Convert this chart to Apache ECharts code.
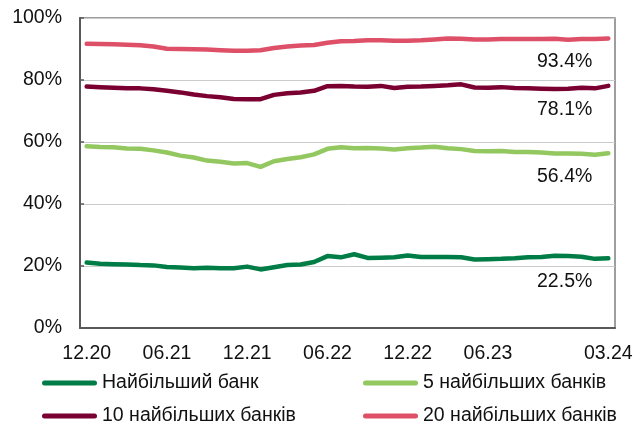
<!DOCTYPE html>
<html>
<head>
<meta charset="utf-8">
<script src="https://cdn.jsdelivr.net/npm/echarts@6/dist/echarts.min.js"></script>
<style>
  html, body { margin: 0; padding: 0; background: #fff; }
  #chart { width: 636px; height: 421px; }
</style>
</head>
<body>
<div id="chart"></div>
<script>
// місяці: 12.20 ... 03.24
const months = [
  '12.20', '01.21', '02.21', '03.21', '04.21', '05.21', '06.21', '07.21', '08.21', '09.21',
  '10.21', '11.21', '12.21', '01.22', '02.22', '03.22', '04.22', '05.22', '06.22', '07.22',
  '08.22', '09.22', '10.22', '11.22', '12.22', '01.23', '02.23', '03.23', '04.23', '05.23',
  '06.23', '07.23', '08.23', '09.23', '10.23', '11.23', '12.23', '01.24', '02.24', '03.24'
]

const top1 = [
  21.1, 20.7, 20.6, 20.5, 20.3, 20.2, 19.7, 19.5, 19.3, 19.4,
  19.3, 19.3, 19.8, 18.9, 19.6, 20.3, 20.5, 21.3, 23.2, 22.8,
  23.8, 22.6, 22.7, 22.8, 23.4, 22.9, 22.9, 22.9, 22.8, 22.1,
  22.2, 22.3, 22.5, 22.8, 22.9, 23.3, 23.2, 23.0, 22.3, 22.5
]
const top5 = [
  58.6, 58.4, 58.3, 57.9, 57.8, 57.3, 56.6, 55.6, 55.0, 54.0,
  53.6, 53.1, 53.2, 52.0, 53.8, 54.5, 55.1, 56.0, 57.8, 58.3,
  58.0, 58.1, 57.9, 57.6, 58.0, 58.2, 58.5, 58.0, 57.7, 57.1,
  57.0, 57.1, 56.8, 56.8, 56.6, 56.3, 56.3, 56.2, 55.9, 56.4
]
const top10 = [
  77.9, 77.7, 77.5, 77.3, 77.3, 77.0, 76.5, 76.0, 75.3, 74.8,
  74.4, 73.9, 73.8, 73.8, 75.2, 75.7, 76.0, 76.5, 78.0, 78.1,
  77.9, 77.8, 78.1, 77.4, 77.8, 77.9, 78.1, 78.3, 78.6, 77.6,
  77.5, 77.7, 77.4, 77.3, 77.2, 77.1, 77.2, 77.5, 77.3, 78.1
]
const top20 = [
  91.7, 91.6, 91.5, 91.4, 91.2, 90.8, 90.1, 90.0, 89.9, 89.8,
  89.6, 89.4, 89.4, 89.6, 90.3, 90.8, 91.1, 91.3, 92.0, 92.5,
  92.6, 92.8, 92.8, 92.7, 92.7, 92.8, 93.1, 93.4, 93.3, 93.1,
  93.1, 93.2, 93.2, 93.2, 93.2, 93.3, 93.0, 93.2, 93.2, 93.4
]

const names = ['Найбільший банк', '5 найбільших банків', '10 найбільших банків', '20 найбільших банків']
const colors = ['#007d46', '#92c85f', '#7b0032', '#de5068']
const values = [top1, top5, top10, top20]

const font = 'Arial, "Liberation Sans", sans-serif'
const capsule = 'path://M2.5,0H52.5A2.5,2.5,0,0,1,52.5,5H2.5A2.5,2.5,0,0,1,2.5,0Z'

function makeSeries (i) {
  const data = values[i]
  const last = data.length - 1
  return {
    name: names[i],
    type: 'line',
    data: data,
    showSymbol: false,
    symbol: 'none',
    silent: true,
    color: colors[i],
    lineStyle: { width: 4.5, color: colors[i], cap: 'round', join: 'round' },
    z: 3 + i,
    markPoint: {
      symbol: 'circle',
      symbolSize: 1,
      itemStyle: { color: 'transparent' },
      label: {
        show: true,
        position: 'bottom',
        distance: 0,
        align: 'right',
        offset: [-16, 13],
        color: '#111',
        fontSize: 19.5,
        fontFamily: font,
        formatter: p => p.value.toFixed(1) + '%'
      },
      data: [{ coord: [last, data[last]], value: data[last] }]
    }
  }
}

// одна легенда на кожну серію, 2 x 2
function makeLegend (i, left, top) {
  return {
    left: left,
    top: top,
    data: [names[i]],
    itemWidth: 55,
    itemHeight: 5,
    icon: capsule,
    selectedMode: false,
    textStyle: { fontSize: 19.5, color: '#111', fontFamily: font }
  }
}

const chart = echarts.init(document.getElementById('chart'))
chart.setOption({
  animation: false,
  backgroundColor: '#fff',
  textStyle: { fontFamily: font },
  grid: {
    left: 80, right: 21, top: 18, bottom: 93,
    show: true,
    borderColor: '#7f7f7f',
    borderWidth: 1.5
  },
  legend: [
    makeLegend(0, 37, 368),
    makeLegend(1, 358, 368),
    makeLegend(2, 37, 401),
    makeLegend(3, 358, 401)
  ],
  xAxis: {
    type: 'category',
    data: months,
    boundaryGap: true,
    axisLine: { lineStyle: { color: '#595959', width: 2 } },
    axisTick: {
      inside: true,
      length: 5,
      interval: i => i % 6 === 0,
      lineStyle: { color: '#595959', width: 1.5 }
    },
    axisLabel: {
      interval: i => (i % 6 === 0 && i !== 36) || i === months.length - 1,
      margin: 16,
      fontSize: 19.5,
      color: '#111',
      fontFamily: font
    },
    splitLine: { show: false }
  },
  yAxis: {
    type: 'value',
    min: 0,
    max: 100,
    interval: 20,
    axisLine: { show: true, lineStyle: { color: '#595959', width: 2 } },
    axisTick: { show: true, inside: true, length: 4, lineStyle: { color: '#595959', width: 1.5 } },
    axisLabel: {
      formatter: '{value}%',
      margin: 18,
      fontSize: 19.5,
      color: '#111',
      fontFamily: font
    },
    splitLine: { lineStyle: { color: '#c8cccc', width: 1 } }
  },
  series: [0, 1, 2, 3].map(makeSeries)
})
</script>
</body>
</html>
